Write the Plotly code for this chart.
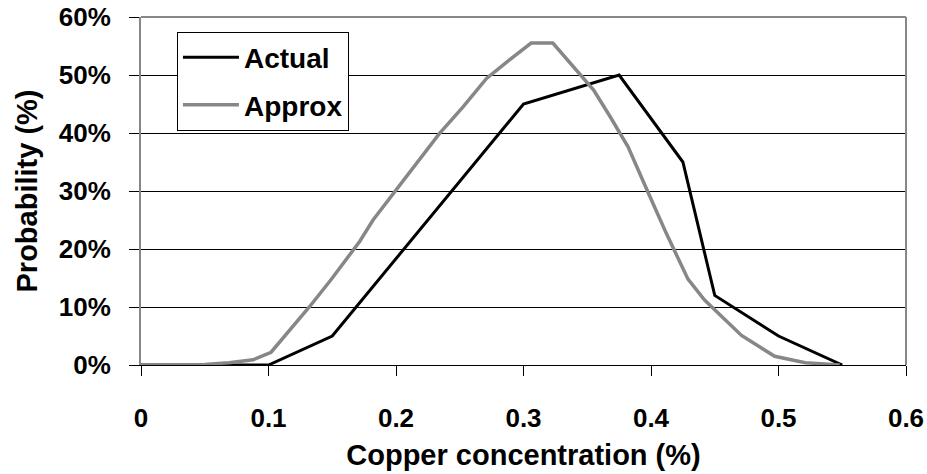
import plotly.graph_objects as go

# Copper concentration (%) and probability (%) for the actual distribution
actual_x = [0.0, 0.05, 0.1, 0.15, 0.3, 0.375, 0.425, 0.45, 0.5, 0.55]
actual_y = [0, 0, 0, 5, 45, 50, 35, 12, 5, 0]

# Smooth approximating distribution
approx_x = [0.0, 0.05, 0.069, 0.088, 0.102, 0.115, 0.132, 0.149, 0.1715, 0.182,
            0.200, 0.216, 0.234, 0.2526, 0.271, 0.289, 0.302, 0.306, 0.323, 0.343,
            0.355, 0.368, 0.382, 0.398, 0.412, 0.429, 0.442, 0.471, 0.497, 0.521, 0.548]
approx_y = [0, 0.1, 0.4, 0.9, 2.2, 5.5, 10, 14.7, 21.3, 25,
            30.2, 34.8, 39.9, 44.5, 49.4, 52.6, 54.9, 55.5, 55.5, 50.5,
            47.4, 42.8, 37.6, 29.6, 22.7, 14.8, 11.2, 5.1, 1.5, 0.4, 0]

x_ticks = [0, 0.1, 0.2, 0.3, 0.4, 0.5, 0.6]
x_tick_text = ["0", "0.1", "0.2", "0.3", "0.4", "0.5", "0.6"]
y_ticks = [0, 10, 20, 30, 40, 50, 60]
y_tick_text = ["0%", "10%", "20%", "30%", "40%", "50%", "60%"]

FONT = "Liberation Sans, Arial, sans-serif"
GRAY = "#878787"

fig = go.Figure()
fig.add_trace(go.Scatter(x=actual_x, y=actual_y, mode="lines", name="Actual",
                         legendgroup="a", line=dict(color="black", width=3)))
fig.add_trace(go.Scatter(x=approx_x, y=approx_y, mode="lines", name="Approx",
                         legendgroup="b", line=dict(color=GRAY, width=3.5)))

fig.update_layout(
    width=927, height=474,
    margin=dict(l=141, r=21, t=17, b=109),
    paper_bgcolor="white", plot_bgcolor="white",
    font=dict(family=FONT, size=26, color="black", weight="bold"),
    legend=dict(x=0.047, y=0.958, xanchor="left", yanchor="top",
                bordercolor="black", borderwidth=1, bgcolor="white",
                font=dict(size=28, weight="bold"), tracegroupgap=8,
                itemwidth=56, traceorder="grouped"),
    xaxis=dict(range=[0, 0.6], tickvals=x_ticks, ticktext=x_tick_text,
               ticks="outside", ticklen=10, tickcolor="black", tickwidth=1,
               showline=True, linecolor="black", linewidth=1,
               showgrid=False, zeroline=False, ticklabelstandoff=20,
               automargin=False, tickfont=dict(size=26),
               title=dict(text="Copper concentration (%)", standoff=12,
                          font=dict(size=29, weight="bold"))),
    yaxis=dict(range=[0, 60], tickvals=y_ticks, ticktext=y_tick_text,
               ticks="outside", ticklen=10, tickcolor="black", tickwidth=1,
               showline=True, linecolor=GRAY, linewidth=2,
               showgrid=True, gridcolor="black", gridwidth=1,
               zeroline=False, ticklabelstandoff=13, automargin=False,
               tickfont=dict(size=26),
               title=dict(text="Probability (%)", standoff=13,
                          font=dict(size=29, weight="bold"))),
    shapes=[
        dict(type="line", xref="paper", yref="paper", x0=0, x1=1, y0=1, y1=1,
             line=dict(color=GRAY, width=2), layer="above"),
        dict(type="line", xref="paper", yref="paper", x0=1, x1=1, y0=0, y1=1,
             line=dict(color=GRAY, width=2), layer="above"),
    ],
)

fig.write_html("out.html")
